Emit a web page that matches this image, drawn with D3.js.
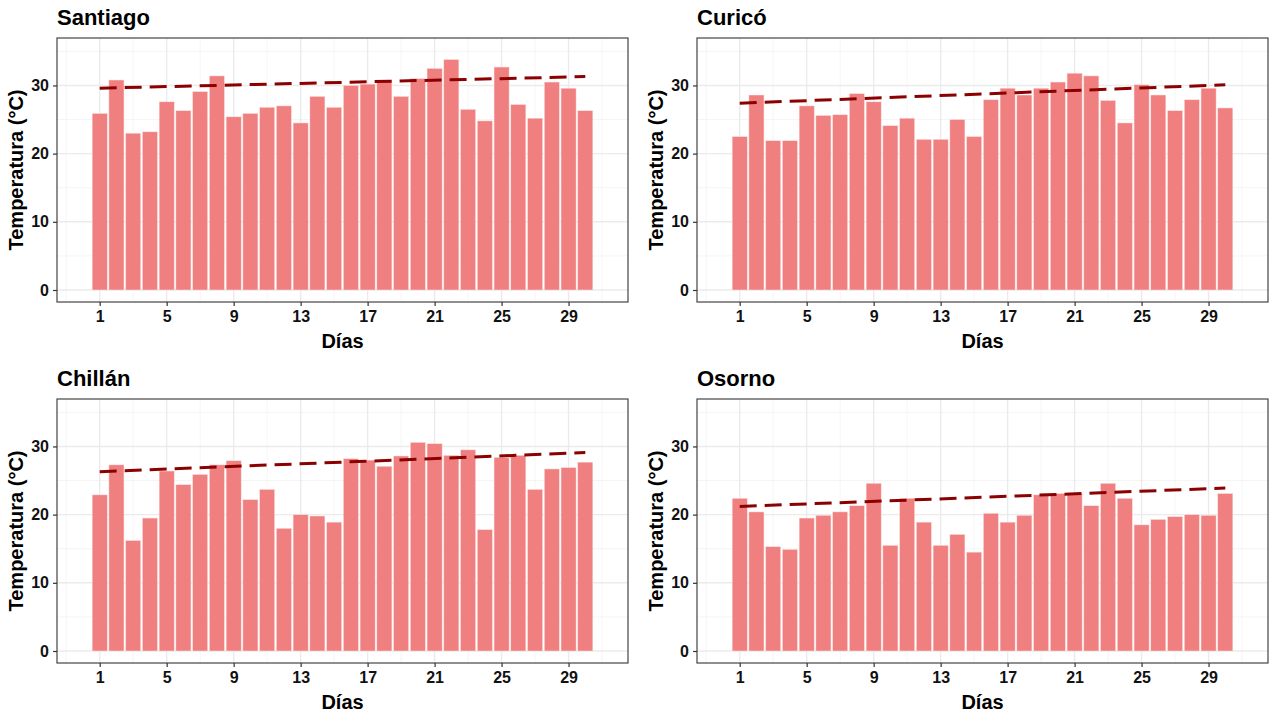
<!DOCTYPE html>
<html lang="es">
<head>
<meta charset="UTF-8">
<title>Temperaturas</title>
<script src="https://cdn.jsdelivr.net/npm/d3@7"></script>
<style>
  body { margin: 0; background: #fff; }
  text { font-family: "Liberation Sans", Arial, sans-serif; }
</style>
</head>
<body>
<script>
// datos
const dias = [1,2,3,4,5,6,7,8,9,10,11,12,13,14,15,16,17,18,19,20,21,22,23,24,25,26,27,28,29,30];

const santiago = [25.9,30.8,23.0,23.2,27.6,26.3,29.1,31.4,25.4,25.9,26.8,27.0,24.5,28.4,26.8,
                  30.0,30.2,30.8,28.4,31.0,32.5,33.8,26.5,24.8,32.7,27.2,25.2,30.5,29.6,26.3];
const curico   = [22.5,28.6,21.9,21.9,27.0,25.6,25.7,28.8,27.6,24.1,25.2,22.1,22.1,25.0,22.5,
                  27.9,29.6,28.6,29.6,30.5,31.8,31.4,27.8,24.5,30.1,28.6,26.3,27.9,29.6,26.7];
const chillan  = [22.9,27.3,16.2,19.5,26.4,24.4,25.9,27.3,27.9,22.2,23.7,18.0,20.0,19.8,18.9,
                  28.2,28.0,27.1,28.6,30.6,30.4,28.7,29.5,17.8,28.4,28.7,23.7,26.7,26.9,27.7];
const osorno   = [22.4,20.4,15.3,14.9,19.5,19.9,20.4,21.3,24.6,15.5,22.4,18.9,15.5,17.1,14.5,
                  20.2,18.9,19.9,22.9,23.1,23.1,21.3,24.6,22.4,18.5,19.3,19.7,20.0,19.9,23.1];

// tendencia (valor en día 1 y día 30)
const tendSantiago = [29.6, 31.3];
const tendCurico   = [27.4, 30.1];
const tendChillan  = [26.3, 29.1];
const tendOsorno   = [21.2, 23.9];

const ticksX = [1,5,9,13,17,21,25,29];
const minorX = [-1,3,7,11,15,19,23,27,31];
const ticksY = [0,10,20,30];
const minorY = [5,15,25,35];

const paneles = [
  {titulo: 'Santiago', valores: santiago, tend: tendSantiago, ox: 0,   oy: 0},
  {titulo: 'Curicó',   valores: curico,   tend: tendCurico,   ox: 640, oy: 0},
  {titulo: 'Chillán',  valores: chillan,  tend: tendChillan,  ox: 0,   oy: 361},
  {titulo: 'Osorno',   valores: osorno,   tend: tendOsorno,   ox: 640, oy: 361}
];

const W = 1269, H = 715;
const pw = 571, ph = 264;   // tamaño del área del gráfico

const svg = d3.select('body').append('svg')
  .attr('width', W).attr('height', H);

const x = d3.scaleLinear().domain([-1.55, 32.55]).range([0, pw]);
const y = d3.scaleLinear().domain([-1.76, 36.96]).range([ph, 0]);

paneles.forEach(p => {
  const g = svg.append('g').attr('transform', `translate(${p.ox + 57},${p.oy + 38})`);

  // grilla menor
  g.selectAll('.vmin').data(minorX).join('line')
    .attr('x1', d => x(d)).attr('x2', d => x(d)).attr('y1', 0).attr('y2', ph)
    .attr('stroke', '#f2f2f2').attr('stroke-width', 0.8);
  g.selectAll('.hmin').data(minorY).join('line')
    .attr('x1', 0).attr('x2', pw).attr('y1', d => y(d)).attr('y2', d => y(d))
    .attr('stroke', '#f2f2f2').attr('stroke-width', 0.8);
  // grilla mayor
  g.selectAll('.vmaj').data(ticksX).join('line')
    .attr('x1', d => x(d)).attr('x2', d => x(d)).attr('y1', 0).attr('y2', ph)
    .attr('stroke', '#ebebeb').attr('stroke-width', 1.4);
  g.selectAll('.hmaj').data(ticksY).join('line')
    .attr('x1', 0).attr('x2', pw).attr('y1', d => y(d)).attr('y2', d => y(d))
    .attr('stroke', '#ebebeb').attr('stroke-width', 1.4);

  // barras
  const bw = x(0.9) - x(0);
  g.selectAll('.bar').data(p.valores).join('rect')
    .attr('x', (d, i) => x(dias[i]) - bw / 2)
    .attr('width', bw)
    .attr('y', d => y(d))
    .attr('height', d => y(0) - y(d))
    .attr('fill', '#f08080')
    .attr('stroke', '#fbe3e3').attr('stroke-width', 0.5);

  // línea de tendencia
  const linea = d3.line()
    .x((d, i) => x(i === 0 ? dias[0] : dias[dias.length - 1]))
    .y(d => y(d));
  g.append('path')
    .attr('d', linea(p.tend))
    .attr('fill', 'none')
    .attr('stroke', '#8b0000')
    .attr('stroke-width', 3)
    .attr('stroke-dasharray', '17,8');

  // borde
  g.append('rect').attr('width', pw).attr('height', ph)
    .attr('fill', 'none').attr('stroke', '#444').attr('stroke-width', 1.2);

  // ejes
  const ax = g.append('g').attr('transform', `translate(0,${ph})`)
    .call(d3.axisBottom(x).tickValues(ticksX).tickSize(4).tickPadding(5));
  const ay = g.append('g')
    .call(d3.axisLeft(y).tickValues(ticksY).tickSize(4).tickPadding(4));
  [ax, ay].forEach(a => {
    a.select('.domain').remove();
    a.selectAll('line').attr('stroke', '#333').attr('stroke-width', 1.2);
    a.selectAll('text').attr('fill', '#111').style('font-size', '16px')
      .style('font-weight', 'bold').style('font-family', '"Liberation Sans", Arial, sans-serif');
  });

  // títulos
  g.append('text').attr('x', 0).attr('y', -13)
    .style('font-size', '22px').style('font-weight', 'bold').attr('fill', '#000')
    .text(p.titulo);
  g.append('text').attr('x', pw / 2).attr('y', ph + 46)
    .attr('text-anchor', 'middle')
    .style('font-size', '20px').style('font-weight', 'bold').attr('fill', '#000')
    .text('Días');
  g.append('text')
    .attr('transform', `translate(-34,${ph / 2}) rotate(-90)`)
    .attr('text-anchor', 'middle')
    .style('font-size', '20px').style('font-weight', 'bold').attr('fill', '#000')
    .text('Temperatura (°C)');
});
</script>
</body>
</html>
